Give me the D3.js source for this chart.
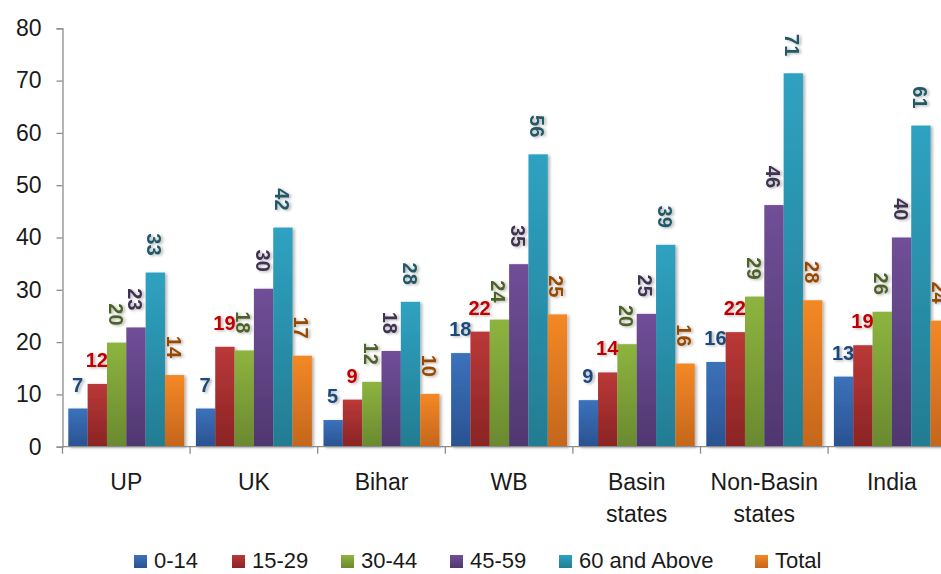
<!DOCTYPE html>
<html>
<head>
<meta charset="utf-8">
<script src="https://cdn.jsdelivr.net/npm/d3@7"></script>
<style>
  html, body { margin: 0; padding: 0; background: #fff; }
  svg { display: block; font-family: "Liberation Sans", Arial, sans-serif; }
</style>
</head>
<body>
<svg id="chart" width="941" height="574"></svg>
<script>
// Regions shown on the x axis (second line after "\n")
const categories = ["UP", "UK", "Bihar", "WB", "Basin\nstates", "Non-Basin\nstates", "India"];

// Age groups, one series each
const seriesNames = ["0-14", "15-29", "30-44", "45-59", "60 and Above", "Total"];

const values014   = [7.3, 7.3, 5.1, 17.9, 8.9, 16.2, 13.4];
const values1529  = [12.0, 19.1, 9.0, 22.0, 14.2, 21.9, 19.4];
const values3044  = [19.9, 18.4, 12.4, 24.3, 19.6, 28.7, 25.8];
const values4559  = [22.8, 30.2, 18.3, 34.9, 25.4, 46.2, 40.0];
const values60up  = [33.3, 41.9, 27.7, 55.9, 38.6, 71.4, 61.4];
const valuesTotal = [13.7, 17.4, 10.1, 25.3, 15.9, 28.0, 24.1];

const yTicks = [0, 10, 20, 30, 40, 50, 60, 70, 80];

// Styling per series: bar gradient (top, bottom), label colour, rotated label or not
const fills = [
  { top: "#3b72bb", bottom: "#2a5291", label: "#1f497d", rotate: false },
  { top: "#bb3838", bottom: "#8a2424", label: "#c00000", rotate: false },
  { top: "#8db43f", bottom: "#6a892f", label: "#4f6228", rotate: true },
  { top: "#704f98", bottom: "#4f3770", label: "#3f3151", rotate: true },
  { top: "#2fa2c1", bottom: "#237c92", label: "#215967", rotate: true },
  { top: "#f48825", bottom: "#c4661d", label: "#974806", rotate: true }
];

const allSeries = [values014, values1529, values3044, values4559, values60up, valuesTotal];
const rows = categories.map((c, i) => ({
  category: c,
  values: allSeries.map((s, j) => ({ key: seriesNames[j], idx: j, value: s[i] }))
}));

const svg = d3.select("#chart");

// Gradients and a soft shadow for the bars
const defs = svg.append("defs");
fills.forEach((f, i) => {
  const g = defs.append("linearGradient")
    .attr("id", "grad" + i).attr("x1", 0).attr("y1", 0).attr("x2", 0).attr("y2", 1);
  g.append("stop").attr("offset", "0%").attr("stop-color", f.top);
  g.append("stop").attr("offset", "100%").attr("stop-color", f.bottom);
});
const shadow = defs.append("filter").attr("id", "shadow")
  .attr("x", "-10%").attr("y", "-10%").attr("width", "130%").attr("height", "120%");
shadow.append("feDropShadow").attr("dx", 2).attr("dy", 1)
  .attr("stdDeviation", 1.5).attr("flood-color", "#000").attr("flood-opacity", 0.3);

const plotLeft = 62.5;
const bandW = 127.6;
const x0 = d3.scaleBand()
  .domain(categories)
  .range([plotLeft, plotLeft + bandW * categories.length])
  .paddingInner(0).paddingOuter(0);
const x1 = d3.scaleBand()
  .domain(seriesNames)
  .range([5.8, bandW - 5.8])
  .padding(0);
const y = d3.scaleLinear().domain([0, 80]).range([446.7, 28.3]);

// Y axis
const yAxis = svg.append("g")
  .attr("transform", `translate(${plotLeft},0)`)
  .call(d3.axisLeft(y).tickValues(yTicks).tickSize(6).tickPadding(15).tickFormat(d3.format("d")));
yAxis.select(".domain").attr("stroke", "#8c8c8c").attr("stroke-width", 1.3);
yAxis.selectAll(".tick line").attr("stroke", "#8c8c8c").attr("stroke-width", 1.3);
yAxis.selectAll(".tick text")
  .attr("font-size", 23).attr("fill", "#1a1a1a")
  .attr("font-family", "Liberation Sans, Arial, sans-serif");

// Bars
const groups = svg.append("g").attr("class", "bars")
  .selectAll("g")
  .data(rows)
  .join("g")
  .attr("transform", d => `translate(${x0(d.category)},0)`)
  .attr("filter", "url(#shadow)");

groups.selectAll("rect")
  .data(d => d.values)
  .join("rect")
  .attr("x", d => x1(d.key))
  .attr("width", x1.bandwidth())
  .attr("y", d => y(d.value))
  .attr("height", d => y(0) - y(d.value))
  .attr("fill", d => `url(#grad${d.idx})`);

// X axis (drawn over the bar bottoms)
const xAxis = svg.append("g")
  .attr("transform", `translate(0,${y(0)})`);
xAxis.append("line")
  .attr("x1", plotLeft).attr("x2", 941)
  .attr("stroke", "#8c8c8c").attr("stroke-width", 1.3);
const boundaries = categories.map(c => x0(c)).concat([x0(categories[categories.length - 1]) + x0.bandwidth()]);
xAxis.selectAll("line.tick")
  .data(boundaries)
  .join("line")
  .attr("class", "tick")
  .attr("x1", d => d).attr("x2", d => d)
  .attr("y1", 0).attr("y2", 7)
  .attr("stroke", "#8c8c8c").attr("stroke-width", 1.3);

const catLabels = svg.append("g").selectAll("text")
  .data(categories)
  .join("text")
  .attr("x", d => x0(d) + x0.bandwidth() / 2)
  .attr("y", 490)
  .attr("text-anchor", "middle")
  .attr("font-size", 23)
  .attr("fill", "#1a1a1a");
catLabels.each(function (d) {
  const lines = d.split("\n");
  const t = d3.select(this);
  lines.forEach((ln, i) => {
    t.append("tspan")
      .attr("x", x0(d) + x0.bandwidth() / 2)
      .attr("dy", i === 0 ? 0 : 32)
      .text(ln);
  });
});

// Value labels
const fmt = d3.format(".0f");
groups.selectAll("text")
  .data(d => d.values)
  .join("text")
  .attr("font-size", 20)
  .attr("font-weight", "bold")
  .attr("fill", d => fills[d.idx].label)
  .each(function (d) {
    const cx = x1(d.key) + x1.bandwidth() / 2;
    const top = y(d.value) - 17;
    const t = d3.select(this);
    if (fills[d.idx].rotate) {
      t.attr("transform", `translate(${cx - 1},${top}) rotate(90)`)
        .attr("text-anchor", "end")
        .attr("dominant-baseline", "central");
    } else {
      t.attr("x", cx - 0.5).attr("y", top)
        .attr("text-anchor", "middle");
    }
  })
  .text(d => fmt(d.value));

// Legend
const legendX = [134, 232, 341, 450, 559, 755];
const legend = svg.append("g").selectAll("g")
  .data(seriesNames)
  .join("g")
  .attr("transform", (d, i) => `translate(${legendX[i]},555)`);
legend.append("rect")
  .attr("width", 13).attr("height", 13)
  .attr("fill", (d, i) => `url(#grad${i})`);
legend.append("text")
  .attr("x", 20).attr("y", 13)
  .attr("font-size", 22)
  .attr("fill", "#1a1a1a")
  .text(d => d);
</script>
</body>
</html>
